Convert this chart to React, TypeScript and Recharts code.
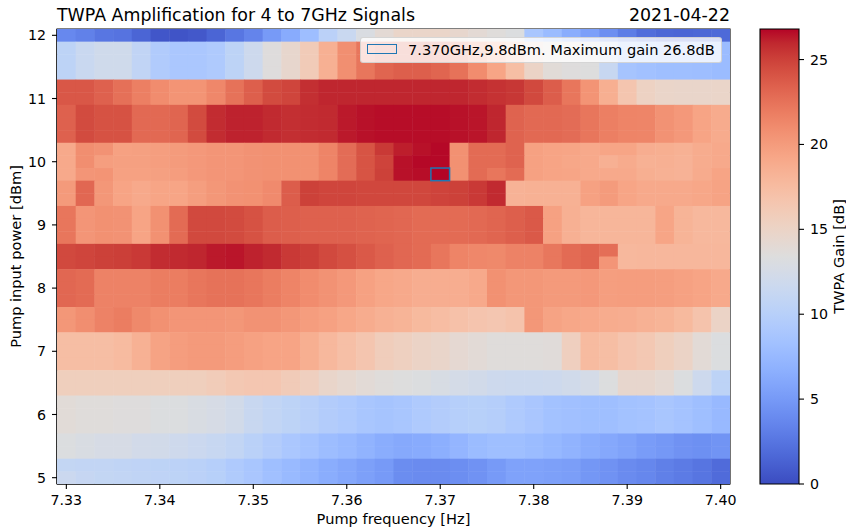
import React from "react";
import {
	ComposedChart,
	Label,
	ReferenceArea,
	Scatter,
	ScatterChart,
	XAxis,
	YAxis,
} from "recharts";

// pump frequency grid (cell centres)
const freqs = [
	7.33, 7.332, 7.334, 7.336, 7.338, 7.34, 7.342, 7.344, 7.346, 7.348, 7.35, 7.352,
	7.354, 7.356, 7.358, 7.36, 7.362, 7.364, 7.366, 7.368, 7.37, 7.372, 7.374, 7.376,
	7.378, 7.38, 7.382, 7.384, 7.386, 7.388, 7.39, 7.392, 7.394, 7.396, 7.398, 7.4,
];

// pump power grid, top row first
const powers = [
	12.0, 11.8, 11.6, 11.4, 11.2, 11.0, 10.8, 10.6, 10.4, 10.2, 10.0, 9.8, 9.6, 9.4,
	9.2, 9.0, 8.8, 8.6, 8.4, 8.2, 8.0, 7.8, 7.6, 7.4, 7.2, 7.0, 6.8, 6.6, 6.4, 6.2,
	6.0, 5.8, 5.6, 5.4, 5.2, 5.0,
];

// TWPA gain [dB] per pump power, one value per frequency
const gain12_0 = [3.8, 3.3, 2.6, 2.4, 1.5, 0.6, 0.5, 0.7, 1.5, 2.6, 3.5, 5.0, 6.3, 8.0, 10.3, 11.5, 13.0, 14.0, 14.8, 14.8, 14.8, 14.5, 14.0, 13.6, 13.2, 8.8, 7.8, 6.5, 5.4, 4.2, 3.0, 2.0, 1.6, 1.5, 1.6, 1.8];
const gain11_4to11_8 = [10.5, 11.5, 12.0, 12.0, 10.8, 9.5, 9.0, 9.0, 9.3, 10.5, 11.8, 13.5, 14.5, 16.0, 18.5, 20.8, 22.3, 23.2, 23.5, 23.5, 23.2, 22.5, 21.0, 19.3, 17.3, 15.0, 13.8, 13.5, 13.4, 11.3, 8.6, 8.3, 8.1, 8.1, 8.0, 7.8];
const gain11_0to11_2 = [23.9, 23.9, 23.4, 22.6, 21.8, 21.0, 20.5, 20.5, 21.3, 22.5, 23.5, 24.5, 24.8, 25.7, 26.0, 26.0, 26.0, 26.0, 26.0, 26.0, 26.0, 26.0, 25.8, 25.6, 25.4, 24.6, 23.6, 22.3, 20.5, 18.6, 16.6, 15.2, 14.8, 14.7, 14.7, 14.8];
const gain10_4to10_8 = [23.4, 24.5, 24.2, 24.2, 23.0, 23.0, 23.2, 24.5, 25.8, 26.1, 26.1, 25.9, 25.7, 25.8, 25.9, 26.3, 26.5, 26.6, 26.6, 26.6, 26.6, 26.5, 26.4, 26.0, 23.3, 23.0, 23.0, 22.8, 22.3, 21.8, 21.5, 21.4, 20.6, 20.2, 19.4, 18.9];
const gain10_2 = [19.0, 20.9, 20.6, 19.6, 19.7, 19.8, 20.0, 20.2, 20.4, 20.4, 20.6, 20.7, 20.7, 20.7, 21.5, 22.8, 24.1, 25.3, 26.2, 26.5, 26.7, 20.7, 22.9, 22.9, 23.3, 19.6, 19.4, 19.3, 19.0, 19.3, 19.3, 18.7, 18.6, 18.4, 18.8, 19.0];
const gain10_0 = [19.0, 20.9, 19.8, 19.7, 19.7, 19.8, 20.0, 20.2, 20.4, 20.4, 20.6, 20.7, 20.7, 20.7, 21.5, 22.8, 24.1, 24.9, 26.5, 26.7, 26.7, 20.7, 22.9, 22.9, 23.3, 19.6, 19.4, 19.2, 19.0, 18.5, 18.9, 18.4, 18.5, 18.3, 18.8, 19.0];
const gain9_8 = [19.0, 20.4, 20.5, 19.6, 19.6, 19.7, 19.9, 20.2, 20.4, 20.4, 20.6, 20.7, 20.7, 20.7, 21.5, 22.8, 24.1, 25.0, 26.5, 26.6, 26.8, 20.7, 22.9, 22.3, 22.9, 19.6, 19.4, 19.3, 19.0, 19.0, 19.0, 18.6, 18.4, 18.3, 18.9, 19.4];
const gain9_4to9_6 = [20.1, 23.1, 20.3, 19.4, 19.0, 19.3, 19.3, 19.8, 20.3, 20.6, 20.7, 21.1, 23.6, 25.0, 24.8, 24.8, 24.7, 24.7, 24.7, 24.7, 24.9, 25.0, 25.3, 25.9, 18.3, 18.4, 18.4, 18.4, 19.6, 20.0, 19.3, 19.0, 19.0, 19.0, 19.2, 19.5];
const gain8_8to9_2 = [22.3, 20.4, 20.7, 20.6, 19.4, 20.7, 22.9, 24.6, 24.6, 24.5, 24.2, 23.6, 23.5, 23.4, 23.4, 23.4, 23.3, 23.2, 23.1, 22.9, 22.9, 22.9, 23.0, 23.2, 23.5, 23.8, 19.6, 18.5, 18.0, 18.0, 18.0, 18.0, 19.3, 18.2, 17.8, 17.8];
const gain8_6 = [24.6, 24.8, 25.0, 25.1, 25.3, 25.8, 25.9, 26.0, 26.3, 26.4, 26.1, 25.9, 25.3, 25.1, 24.6, 24.3, 23.8, 23.4, 23.1, 22.9, 22.3, 21.5, 21.3, 21.2, 21.6, 21.6, 22.2, 22.9, 23.2, 22.7, 17.8, 17.9, 17.9, 17.9, 17.9, 17.9];
const gain8_4 = [24.6, 24.8, 25.0, 25.1, 25.3, 25.8, 25.9, 26.0, 26.3, 26.4, 26.1, 25.9, 25.3, 25.1, 24.6, 24.3, 23.8, 23.4, 23.1, 22.9, 22.3, 21.5, 21.3, 21.2, 21.6, 21.6, 22.2, 22.9, 23.2, 20.4, 17.8, 17.9, 17.9, 17.9, 17.9, 17.9];
const gain7_8to8_2 = [23.1, 22.9, 21.6, 21.6, 21.6, 21.9, 21.9, 22.3, 22.5, 22.5, 22.3, 21.9, 21.5, 21.0, 20.6, 20.2, 19.6, 19.2, 19.0, 18.7, 18.7, 18.7, 19.0, 20.7, 20.3, 20.3, 20.1, 20.1, 20.2, 19.8, 19.9, 19.9, 19.8, 19.6, 19.4, 19.0];
const gain7_4to7_6 = [20.3, 20.9, 21.6, 21.9, 21.2, 20.7, 20.4, 20.4, 20.4, 20.3, 20.6, 20.6, 20.3, 19.9, 19.6, 19.2, 18.8, 18.4, 18.2, 17.7, 17.4, 17.0, 16.7, 16.5, 16.8, 20.3, 19.5, 19.2, 19.0, 18.8, 18.7, 18.4, 18.2, 17.7, 16.8, 15.0];
const gain6_8to7_2 = [17.3, 17.3, 17.3, 17.6, 18.4, 19.5, 19.9, 20.1, 20.1, 19.9, 19.6, 19.4, 19.4, 18.6, 17.8, 17.2, 16.6, 15.8, 15.4, 15.0, 14.7, 14.2, 13.9, 13.6, 13.6, 13.6, 13.7, 15.5, 17.6, 17.3, 16.7, 16.3, 15.6, 15.0, 13.9, 13.2];
const gain6_4to6_6 = [15.6, 15.6, 15.6, 15.6, 15.6, 15.6, 15.6, 15.6, 15.9, 16.3, 16.5, 16.5, 16.0, 15.5, 14.7, 14.3, 13.9, 13.6, 13.4, 13.2, 12.8, 12.5, 12.2, 11.8, 11.7, 11.7, 11.8, 12.1, 12.5, 13.3, 14.5, 14.5, 14.1, 13.2, 11.8, 10.5];
const gain5_8to6_2 = [13.8, 13.6, 13.6, 13.5, 13.5, 13.2, 13.2, 12.9, 12.7, 12.2, 11.4, 10.9, 10.5, 10.1, 9.6, 9.3, 8.8, 8.6, 8.8, 9.3, 9.6, 9.9, 10.0, 9.8, 9.3, 8.9, 8.4, 8.2, 8.1, 8.1, 8.4, 8.5, 8.8, 8.5, 8.1, 7.5];
const gain5_4to5_6 = [13.2, 12.9, 12.7, 12.7, 12.3, 12.2, 11.9, 11.6, 11.3, 10.9, 10.2, 9.6, 9.0, 8.5, 7.9, 7.5, 7.0, 6.5, 6.2, 6.3, 6.6, 7.2, 7.8, 8.1, 8.1, 7.8, 7.4, 7.0, 6.5, 6.1, 5.7, 5.2, 4.9, 4.5, 4.3, 4.6];
const gain5_2 = [11.0, 10.9, 10.9, 10.7, 10.6, 10.5, 10.4, 10.2, 9.9, 9.3, 8.8, 8.1, 7.6, 7.1, 6.5, 6.0, 5.5, 5.0, 4.1, 4.0, 4.0, 4.2, 4.5, 5.0, 5.6, 5.6, 5.5, 5.3, 4.8, 4.5, 4.0, 3.7, 3.2, 2.9, 2.5, 1.9];
const gain5_0 = [11.6, 11.2, 11.0, 10.9, 10.7, 10.6, 10.5, 10.3, 10.0, 9.4, 8.9, 8.2, 7.6, 7.1, 6.5, 6.0, 5.5, 5.0, 4.1, 4.0, 4.0, 4.2, 4.5, 5.0, 5.6, 5.6, 5.5, 5.3, 4.8, 4.5, 4.0, 3.7, 3.2, 2.9, 2.5, 1.9];

const gainRows = [
	gain12_0,
	gain11_4to11_8, gain11_4to11_8, gain11_4to11_8,
	gain11_0to11_2, gain11_0to11_2,
	gain10_4to10_8, gain10_4to10_8, gain10_4to10_8,
	gain10_2, gain10_0, gain9_8,
	gain9_4to9_6, gain9_4to9_6,
	gain8_8to9_2, gain8_8to9_2, gain8_8to9_2,
	gain8_6, gain8_4,
	gain7_8to8_2, gain7_8to8_2, gain7_8to8_2,
	gain7_4to7_6, gain7_4to7_6,
	gain6_8to7_2, gain6_8to7_2, gain6_8to7_2,
	gain6_4to6_6, gain6_4to6_6,
	gain5_8to6_2, gain5_8to6_2, gain5_8to6_2,
	gain5_4to5_6, gain5_4to5_6,
	gain5_2, gain5_0,
];

const freqTicks = [7.33, 7.34, 7.35, 7.36, 7.37, 7.38, 7.39, 7.4];
const powerTicks = [5, 6, 7, 8, 9, 10, 11, 12];
const gainTicks = [0, 5, 10, 15, 20, 25];

// matplotlib "coolwarm"
const coolwarmStops = [
	[59, 76, 192], [68, 90, 204], [77, 104, 215], [87, 117, 225], [98, 130, 234],
	[108, 142, 241], [119, 154, 247], [130, 165, 251], [141, 176, 254], [152, 185, 255],
	[163, 194, 255], [174, 201, 253], [184, 208, 249], [194, 213, 244], [204, 217, 238],
	[213, 219, 230], [221, 221, 221], [229, 216, 209], [236, 211, 197], [241, 204, 185],
	[245, 196, 173], [247, 187, 160], [247, 177, 148], [247, 166, 135], [244, 154, 123],
	[241, 141, 111], [236, 127, 99], [229, 112, 88], [222, 96, 77], [213, 80, 66],
	[203, 62, 56], [192, 40, 47], [180, 4, 38],
];

const FREQ_STEP = 0.002;
const POWER_STEP = 0.2;
const FREQ_DOMAIN: [number, number] = [7.329, 7.401];
const POWER_DOMAIN: [number, number] = [4.9, 12.1];
const PLOT = { left: 57, top: 29, right: 730, bottom: 484 };
const WIDTH = 846;
const HEIGHT = 528;
const FONT = "'DejaVu Sans', sans-serif";
const INK = "#000";
const TICK_SIZE = 14.2;
const LABEL_SIZE = 14.6;

const cells = gainRows.flatMap((row, i) =>
	row.map((g, j) => ({ f: freqs[j], p: powers[i], g })),
);
const peak = cells.reduce((best, c) => (c.g > best.g ? c : best));
const GAIN_MAX = peak.g;
const peakText = `${peak.f.toFixed(3)}GHz,${peak.p.toFixed(1)}dBm. Maximum gain ${peak.g.toFixed(1)}dB`;

const cellW =
	((PLOT.right - PLOT.left) * FREQ_STEP) / (FREQ_DOMAIN[1] - FREQ_DOMAIN[0]);
const cellH =
	((PLOT.bottom - PLOT.top) * POWER_STEP) / (POWER_DOMAIN[1] - POWER_DOMAIN[0]);

function coolwarm(v: number) {
	const t = Math.min(1, Math.max(0, v / GAIN_MAX)) * (coolwarmStops.length - 1);
	const i = Math.min(coolwarmStops.length - 2, Math.floor(t));
	const k = t - i;
	const a = coolwarmStops[i];
	const b = coolwarmStops[i + 1];
	const c = a.map((x, n) => Math.round(x + (b[n] - x) * k));
	return `rgb(${c[0]},${c[1]},${c[2]})`;
}

const tickStyle = { fill: INK, fontSize: TICK_SIZE, fontFamily: FONT };
const lineStyle = { stroke: INK, strokeWidth: 1.1 };

function HeatCell(props: any) {
	const { cx, cy, payload } = props;
	return (
		<rect
			x={cx - cellW / 2}
			y={cy - cellH / 2}
			width={cellW + 0.5}
			height={cellH + 0.5}
			fill={coolwarm(payload.g)}
		/>
	);
}

function PeakBox(props: any) {
	const { cx, cy } = props;
	return (
		<rect
			x={cx - cellW / 2}
			y={cy - cellH / 2}
			width={cellW}
			height={cellH}
			fill="none"
			stroke="#1f77b4"
			strokeWidth={1.5}
		/>
	);
}

function verticalLabel(text: string, dx: number) {
	return (props: any) => {
		const vb = props.viewBox;
		const x = vb.x + dx;
		const y = vb.y + vb.height / 2;
		return (
			<text
				x={x}
				y={y}
				transform={`rotate(-90 ${x} ${y})`}
				textAnchor="middle"
				dominantBaseline="central"
				fill={INK}
				fontSize={LABEL_SIZE}
				fontFamily={FONT}
			>
				{text}
			</text>
		);
	};
}

const headerStyle = {
	position: "absolute" as const,
	top: 4.6,
	fontSize: 17.4,
	lineHeight: "20px",
	color: INK,
	whiteSpace: "nowrap" as const,
};

export default function App() {
	return (
		<div
			style={{
				position: "absolute",
				left: 0,
				top: 0,
				width: WIDTH,
				height: HEIGHT,
				background: "#fff",
				fontFamily: FONT,
			}}
		>
			<svg width={0} height={0} style={{ position: "absolute" }}>
				<defs>
					<linearGradient id="coolwarm" x1="0" y1="1" x2="0" y2="0">
						{coolwarmStops.map((c, i) => (
							<stop
								key={i}
								offset={i / (coolwarmStops.length - 1)}
								stopColor={`rgb(${c[0]},${c[1]},${c[2]})`}
							/>
						))}
					</linearGradient>
				</defs>
			</svg>

			<div style={{ ...headerStyle, left: PLOT.left }}>
				TWPA Amplification for 4 to 7GHz Signals
			</div>
			<div style={{ ...headerStyle, right: WIDTH - PLOT.right }}>2021-04-22</div>

			<ScatterChart
				width={WIDTH}
				height={HEIGHT}
				margin={{ top: PLOT.top, right: WIDTH - PLOT.right, bottom: 14, left: 12 }}
				style={{ position: "absolute", left: 0, top: 0 }}
			>
				<XAxis
					type="number"
					dataKey="f"
					domain={FREQ_DOMAIN}
					ticks={freqTicks}
					tickFormatter={(v: number) => v.toFixed(2)}
					allowDataOverflow
					height={30}
					tick={tickStyle}
					tickLine={lineStyle}
					axisLine={lineStyle}
					tickSize={5}
					tickMargin={6}
				>
					<Label
						value="Pump frequency [Hz]"
						position="bottom"
						offset={0}
						fill={INK}
						fontSize={LABEL_SIZE}
						fontFamily={FONT}
					/>
				</XAxis>
				<YAxis
					type="number"
					dataKey="p"
					domain={POWER_DOMAIN}
					ticks={powerTicks}
					allowDataOverflow
					width={45}
					tick={tickStyle}
					tickLine={lineStyle}
					axisLine={lineStyle}
					tickSize={5}
					tickMargin={6}
				>
					<Label content={verticalLabel("Pump input power [dBm]", 3)} />
				</YAxis>
				<Scatter data={cells} shape={HeatCell} isAnimationActive={false} />
				<Scatter data={[peak]} shape={PeakBox} isAnimationActive={false} />
				<ReferenceArea
					x1={FREQ_DOMAIN[0]}
					x2={FREQ_DOMAIN[1]}
					y1={POWER_DOMAIN[0]}
					y2={POWER_DOMAIN[1]}
					fill="none"
					stroke={INK}
					strokeWidth={1.1}
				/>
			</ScatterChart>

			<ComposedChart
				width={96}
				height={HEIGHT}
				data={[
					{ x: 0, y: 0 },
					{ x: 1, y: GAIN_MAX },
				]}
				margin={{ top: PLOT.top, right: 7, bottom: HEIGHT - PLOT.bottom, left: 10 }}
				style={{ position: "absolute", left: 750, top: 0 }}
			>
				<XAxis type="number" dataKey="x" domain={[0, 1]} hide />
				<YAxis
					type="number"
					dataKey="y"
					orientation="right"
					domain={[0, GAIN_MAX]}
					ticks={gainTicks}
					width={40}
					tick={tickStyle}
					tickLine={lineStyle}
					axisLine={false}
					tickSize={5}
					tickMargin={6}
				>
					<Label content={verticalLabel("TWPA Gain [dB]", 39)} />
				</YAxis>
				<ReferenceArea
					x1={0}
					x2={1}
					y1={0}
					y2={GAIN_MAX}
					fill="url(#coolwarm)"
					fillOpacity={1}
					stroke={INK}
					strokeWidth={1.1}
				/>
			</ComposedChart>

			<div
				style={{
					position: "absolute",
					left: 360,
					top: 36.5,
					width: 362,
					height: 26.5,
					boxSizing: "border-box",
					background: "rgba(255,255,255,0.8)",
					border: "1px solid rgba(204,204,204,0.8)",
					borderRadius: 3,
				}}
			>
				<div
					style={{
						position: "absolute",
						left: 5.7,
						top: 6.5,
						width: 30,
						height: 10,
						boxSizing: "border-box",
						border: "1.5px solid #1f77b4",
					}}
				/>
				<span
					style={{
						position: "absolute",
						left: 47,
						top: 2.4,
						fontSize: LABEL_SIZE,
						lineHeight: "20px",
						color: INK,
						whiteSpace: "nowrap",
					}}
				>
					{peakText}
				</span>
			</div>
		</div>
	);
}
